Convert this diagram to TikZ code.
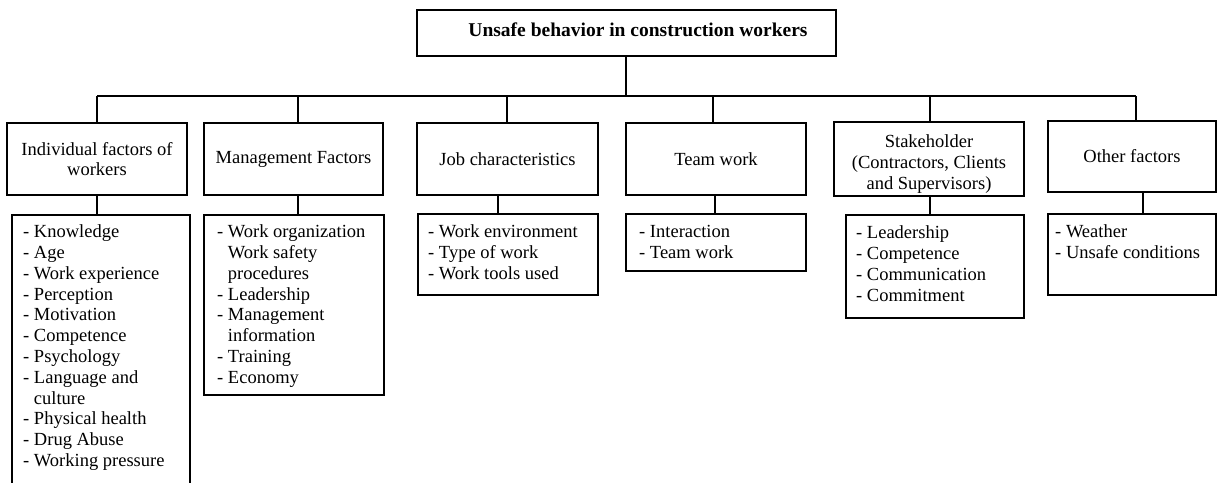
\documentclass[tikz,border=0pt]{standalone}
\usepackage{fontspec}
\setmainfont{Liberation Serif}
\usetikzlibrary{fit}
\tikzset{
  box/.style={draw, line width=1.3pt, inner sep=0pt, align=center},
  sized/.style 2 args={minimum width=#1, minimum height=#2},
  link/.style={line width=1.3pt},
  items/.style={anchor=north west, inner sep=0pt},
}
\newcommand\itemlist[1]{\begin{tabular}{@{}l@{}}#1\end{tabular}}
\newcommand\cont{\phantom{- }}
\begin{document}
\begin{tikzpicture}[x=1pt, y=-1pt, font=\fontsize{18.5}{20.8}\selectfont]
\useasboundingbox (0,0) rectangle (1217,482);

% root
\node[box, sized={419pt}{46pt}] (root) at (626.5,33) {};
\node (title) at (638,30) {\fontsize{19.5}{22}\selectfont\bfseries Unsafe behavior in construction workers};

% factor groups
\node[box, sized={180pt}{72pt}] (h1) at (97,159)    {Individual factors of\\ workers};
\node[box, sized={179pt}{72pt}] (h2) at (293.5,159) {Management Factors};
\node[box, sized={181pt}{72pt}] (h3) at (507.5,159) {Job characteristics};
\node[box, sized={180pt}{72pt}] (h4) at (716,159)   {Team work};
\node[box, sized={190pt}{74pt}] (h5) at (929,159)   {\begin{tabular}{@{}c@{}}\rule{0pt}{25pt}Stakeholder\\ (Contractors, Clients\\ and Supervisors)\end{tabular}};
\node[box, sized={168pt}{71pt}] (h6) at (1132,156.5) {Other factors};

% item boxes
\node[box, fit={(12,215) (190,500)}]    (l1) {};
\node[box, fit={(204,215) (384,395)}]   (l2) {};
\node[box, fit={(418,214) (598,295)}]   (l3) {};
\node[box, fit={(626,214) (806,271)}]   (l4) {};
\node[box, fit={(846,215) (1024,318)}]  (l5) {};
\node[box, fit={(1048,214) (1216,295)}] (l6) {};

\node[items] (t1) at (23,223) {\itemlist{- Knowledge\\ - Age\\ - Work experience\\ - Perception\\ - Motivation\\ - Competence\\ - Psychology\\ - Language and\\ \cont culture\\ - Physical health\\ - Drug Abuse\\ - Working pressure}};
\node[items] (t2) at (217,223) {\itemlist{- Work organization\\ \cont Work safety\\ \cont procedures\\ - Leadership\\ - Management\\ \cont information\\ - Training\\ - Economy}};
\node[items] (t3) at (428,223) {\itemlist{- Work environment\\ - Type of work\\ - Work tools used}};
\node[items] (t4) at (639,223) {\itemlist{- Interaction\\ - Team work}};
\node[items] (t5) at (856,224) {\itemlist{- Leadership\\ - Competence\\ - Communication\\ - Commitment}};
\node[items] (t6) at (1055,223) {\itemlist{- Weather\\ - Unsafe conditions}};

% branch points on the bus and below each group
\coordinate (b1) at (97,96);
\coordinate (b2) at (298,96);
\coordinate (b3) at (507,96);
\coordinate (b4) at (713,96);
\coordinate (b5) at (930,96);
\coordinate (b6) at (1136,96);
\coordinate (c1) at (97,0);
\coordinate (c2) at (298,0);
\coordinate (c3) at (498,0);
\coordinate (c4) at (715,0);
\coordinate (c5) at (930,0);
\coordinate (c6) at (1143,0);

\draw[link] (root.south -| 626,0) -- (b1 -| 626,0);
\draw[link] (b1) -- (b6);
\foreach \i in {1,...,6} {
  \draw[link] (b\i) -- (b\i |- h\i.north);
  \draw[link] (h\i.south -| c\i) -- (l\i.north -| c\i);
}
\end{tikzpicture}
\end{document}
